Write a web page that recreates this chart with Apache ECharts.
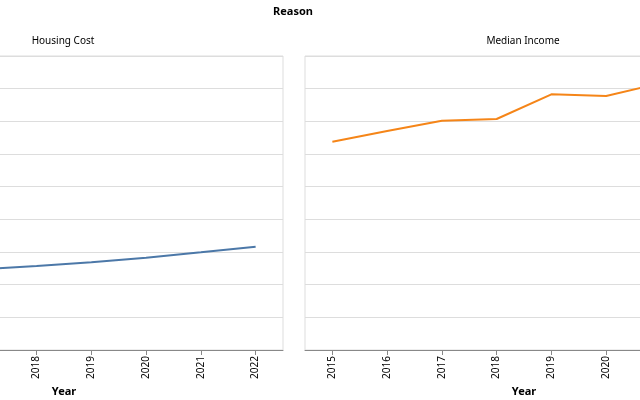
<!DOCTYPE html>
<html>
<head>
<meta charset="utf-8">
<script src="https://cdn.jsdelivr.net/npm/echarts@6/dist/echarts.min.js"></script>
<style>
html,body{margin:0;padding:0;width:640px;height:400px;overflow:hidden;background:#fff;}
#c{position:absolute;left:-160px;top:0;width:920px;height:400px;}
</style>
</head>
<body>
<div id="c"></div>
<script>
const years = ['2015','2016','2017','2018','2019','2020','2021','2022'];
const housingCost = [23000, 23800, 24700, 25710, 26840, 28250, 29900, 31620];
const medianIncome = [63760, 67030, 70190, 70710, 78270, 77750, 81700, 84000];
const facetNames = ['Housing Cost', 'Median Income'];
const yMin = 0, yMax = 90000, yStep = 10000;

const FONT = 'Noto Sans';
const chart = echarts.init(document.getElementById('c'), null, {renderer: 'canvas'});

function xAxis(gi) {
  return {
    type: 'category', gridIndex: gi, data: years, boundaryGap: true,
    name: 'Year', nameLocation: 'middle', nameGap: 34,
    nameTextStyle: {fontFamily: FONT, fontSize: 11, fontWeight: 'bold', color: '#000'},
    axisLine: {show: true, lineStyle: {color: '#888', width: 1}},
    axisTick: {show: true, alignWithLabel: true, length: 5, lineStyle: {color: '#888'}},
    axisLabel: {rotate: 90, fontFamily: FONT, fontSize: 10, color: '#000', margin: 6},
    splitLine: {show: false}
  };
}
function yAxis(gi) {
  return {
    type: 'value', gridIndex: gi, min: yMin, max: yMax, interval: yStep,
    axisLine: {show: false}, axisTick: {show: false}, axisLabel: {show: false},
    splitLine: {show: true, lineStyle: {color: '#ddd', width: 1}}
  };
}

chart.setOption({
  animation: false,
  title: [
    {text: 'Reason', left: 448, top: 1, textAlign: 'center',
     textStyle: {fontFamily: FONT, fontSize: 11, fontWeight: 'bold', color: '#000'}},
    {text: facetNames[0], left: 218, top: 31, textAlign: 'center',
     textStyle: {fontFamily: FONT, fontSize: 10, fontWeight: 'normal', color: '#000'}},
    {text: facetNames[1], left: 678, top: 31, textAlign: 'center',
     textStyle: {fontFamily: FONT, fontSize: 10, fontWeight: 'normal', color: '#000'}}
  ],
  grid: [
    {left: 5, top: 56, width: 438, height: 294, show: true, borderColor: '#ddd', borderWidth: 1,
     backgroundColor: 'transparent', outerBoundsMode: 'none', containLabel: false},
    {left: 465, top: 56, width: 438, height: 294, show: true, borderColor: '#ddd', borderWidth: 1,
     backgroundColor: 'transparent', outerBoundsMode: 'none', containLabel: false}
  ],
  xAxis: [xAxis(0), xAxis(1)],
  yAxis: [yAxis(0), yAxis(1)],
  series: [
    {type: 'line', name: facetNames[0], xAxisIndex: 0, yAxisIndex: 0, data: housingCost,
     showSymbol: false, lineStyle: {color: '#4c78a8', width: 2}, itemStyle: {color: '#4c78a8'}},
    {type: 'line', name: facetNames[1], xAxisIndex: 1, yAxisIndex: 1, data: medianIncome,
     showSymbol: false, lineStyle: {color: '#f58518', width: 2}, itemStyle: {color: '#f58518'}}
  ]
});
</script>
</body>
</html>
